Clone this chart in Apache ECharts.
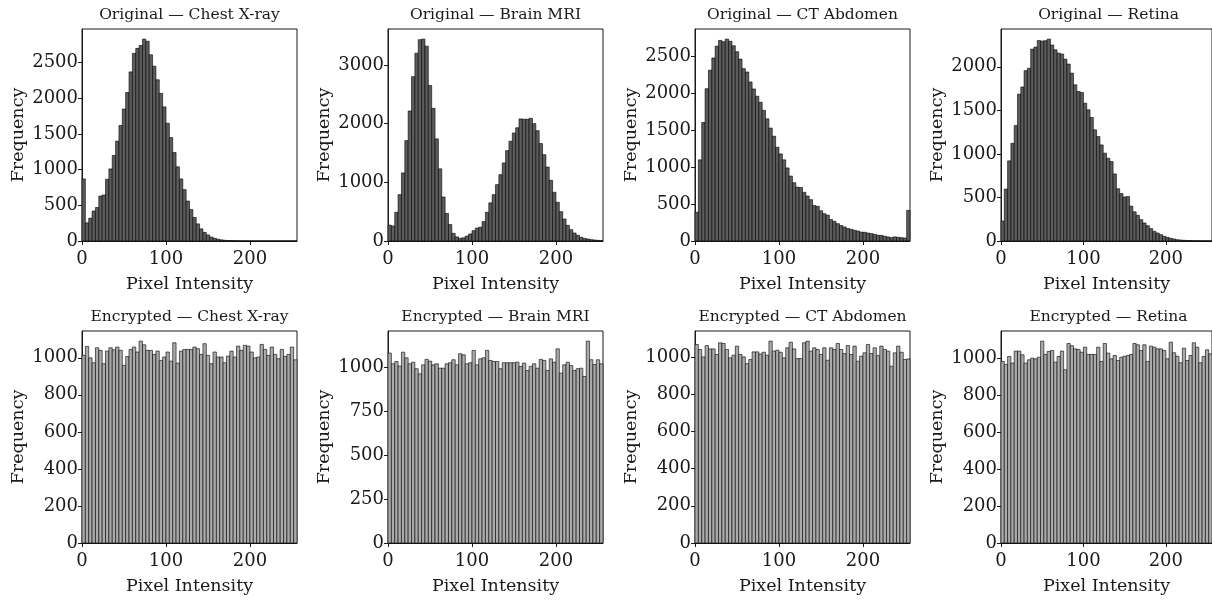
<!DOCTYPE html>
<html>
<head>
<meta charset="UTF-8">
<title>Pixel intensity histograms</title>
<script src="https://cdn.jsdelivr.net/npm/echarts@6/dist/echarts.min.js"></script>
<style>
  html, body { margin: 0; padding: 0; background: #fff; }
  #main { width: 1212px; height: 600px; }
</style>
</head>
<body>
<div id="main"></div>
<script>
// 64 bins of width 4 over 0..256
var binWidth = 4;

var titles = [
  'Original — Chest X-ray', 'Original — Brain MRI', 'Original — CT Abdomen', 'Original — Retina',
  'Encrypted — Chest X-ray', 'Encrypted — Brain MRI', 'Encrypted — CT Abdomen', 'Encrypted — Retina'
];

var origChest = [870, 255, 320, 420, 470, 630, 645, 865, 1010, 1200,
  1400, 1620, 1850, 2080, 2370, 2630, 2700, 2740, 2830, 2800,
  2610, 2450, 2260, 2070, 1880, 1650, 1450, 1240, 1040, 870,
  720, 560, 440, 330, 240, 170, 120, 85, 55, 38,
  25, 16, 10, 6, 4, 3, 2, 1, 1, 0,
  0, 0, 0, 0, 0, 0, 0, 0, 0, 0, 0, 0, 0, 0];
var origBrain = [270, 256, 490, 790, 1160, 1710, 2215, 2800, 3200, 3430,
  3440, 3320, 2650, 2260, 1740, 1230, 750, 470, 280, 130,
  70, 45, 55, 85, 120, 175, 220, 235, 330, 490,
  650, 790, 960, 1130, 1330, 1540, 1700, 1840, 1930, 2080,
  2075, 2075, 2090, 2000, 1880, 1660, 1470, 1260, 1035, 830,
  660, 500, 375, 267, 193, 136, 97, 63, 45, 34,
  23, 17, 11, 6];
var origCT = [390, 1100, 1606, 2064, 2315, 2480, 2640, 2718, 2700, 2736,
  2707, 2646, 2565, 2465, 2335, 2290, 2155, 2060, 1962, 1880,
  1770, 1655, 1530, 1420, 1270, 1180, 1100, 990, 880, 790,
  730, 725, 660, 610, 560, 480, 470, 410, 370, 350,
  290, 265, 235, 210, 190, 170, 158, 145, 135, 120,
  118, 108, 100, 90, 78, 76, 64, 55, 45, 56,
  50, 45, 40, 415];
var origRetina = [230, 596, 920, 1121, 1325, 1686, 1768, 1956, 1983, 2203,
  2226, 2301, 2295, 2300, 2318, 2250, 2195, 2157, 2146, 2088,
  2031, 1927, 1793, 1716, 1705, 1582, 1506, 1418, 1276, 1199,
  1103, 1008, 950, 912, 770, 600, 545, 505, 510, 400,
  335, 295, 245, 207, 176, 142, 111, 92, 73, 54,
  42, 31, 23, 15, 11, 8, 6, 4, 3, 2,
  2, 1, 1, 0];
var encChest = [1013, 1061, 1000, 973, 1054, 1040, 968, 1036, 1054, 1043,
  1058, 1040, 959, 1007, 1045, 1058, 1031, 1090, 1070, 1040,
  1040, 1018, 1036, 986, 1004, 1031, 982, 1081, 971, 1036,
  1045, 1045, 1045, 1058, 1049, 1018, 1076, 1013, 968, 1031,
  1004, 1004, 973, 1009, 1036, 1004, 1063, 1040, 1067, 1063,
  1031, 1000, 1004, 1072, 1045, 1013, 1058, 1018, 995, 1045,
  1007, 1018, 1058, 989];
var encBrain = [1080, 1019, 1032, 1006, 1085, 1053, 1019, 1028, 991, 962,
  1013, 1044, 1034, 1013, 1019, 994, 994, 1019, 1025, 1042,
  1013, 1076, 1070, 1019, 1025, 1095, 1013, 1047, 1053, 1095,
  1038, 1032, 1032, 991, 1025, 1025, 1025, 1025, 1028, 1004,
  1023, 981, 1004, 1019, 994, 1044, 1038, 981, 1047, 1028,
  1104, 966, 1013, 1028, 1009, 981, 991, 994, 947, 1148,
  1042, 1015, 1042, 1019];
var encCT = [1067, 1040, 1000, 1061, 1043, 1043, 1013, 1076, 1072, 1040,
  995, 1009, 1058, 1013, 1000, 964, 986, 1027, 1027, 1016,
  1025, 1009, 1085, 1031, 1036, 1025, 995, 1049, 1079, 1043,
  991, 991, 1076, 1085, 1031, 1049, 1040, 1013, 1049, 982,
  1049, 1040, 1072, 1040, 1018, 1061, 1013, 1058, 977, 1004,
  1022, 1067, 1018, 1049, 1007, 1058, 1040, 1031, 950, 1022,
  1058, 1025, 986, 989];
var encRetina = [982, 966, 1009, 973, 1038, 1038, 1018, 973, 991, 1000,
  996, 1005, 1092, 1020, 1036, 1041, 978, 1009, 1038, 937,
  1079, 1067, 1050, 1047, 1032, 1059, 1020, 1020, 1020, 1059,
  982, 1079, 1027, 996, 1014, 987, 1005, 1010, 1014, 1020,
  1079, 1072, 1041, 1072, 982, 1065, 1059, 1050, 1050, 1041,
  996, 1086, 1029, 1010, 975, 1054, 987, 1014, 1083, 1059,
  975, 1009, 1045, 1023];

var panels = [origChest, origBrain, origCT, origRetina, encChest, encBrain, encCT, encRetina];
var yStep = [500, 1000, 500, 500, 200, 250, 200, 200];
var xTicks = [0, 100, 200];

// layout (px)
var colLeft = [82, 388, 695, 1001];
var rowTop = [29, 331];
var titleTop = [7, 309];
var plotW = 215, plotH = 212;
var ink = '#1a1a1a';
var font = 'DejaVu Serif';
var fillOrig = '#5c5c5c', fillEnc = '#ababab';

var myChart = echarts.init(document.getElementById('main'));

var grids = [], xAxes = [], yAxes = [], series = [], titleList = [];

function plain(v) { return String(v); }

for (var i = 0; i < panels.length; i++) {
  var col = i % 4, row = Math.floor(i / 4);
  var vals = panels[i];
  var yMax = Math.max.apply(null, vals) * 1.05;
  var yTicks = [];
  for (var t = 0; t <= yMax; t += yStep[i]) yTicks.push(t);

  titleList.push({
    text: titles[i],
    left: colLeft[col] + plotW / 2,
    top: titleTop[row],
    textAlign: 'center',
    padding: 0,
    textStyle: { fontFamily: font, fontSize: 15.5, fontWeight: 'normal', color: ink }
  });

  grids.push({
    left: colLeft[col], top: rowTop[row], width: plotW, height: plotH,
    show: true, borderColor: ink, borderWidth: 1, containLabel: false
  });

  xAxes.push({
    gridIndex: i, type: 'value', min: 0, max: 256, interval: 100,
    axisLine: { show: true, lineStyle: { color: ink, width: 1 } },
    axisTick: { show: true, length: 4, lineStyle: { color: ink }, customValues: xTicks },
    axisLabel: { customValues: xTicks, formatter: plain, fontFamily: font, fontSize: 18, color: ink, margin: 9 },
    splitLine: { show: false },
    name: 'Pixel Intensity', nameLocation: 'middle', nameGap: 34,
    nameTextStyle: { fontFamily: font, fontSize: 17.5, color: ink }
  });

  yAxes.push({
    gridIndex: i, type: 'value', min: 0, max: yMax, interval: yStep[i],
    axisLine: { show: true, lineStyle: { color: ink, width: 1 } },
    axisTick: { show: true, length: 4, lineStyle: { color: ink }, customValues: yTicks },
    axisLabel: { customValues: yTicks, formatter: plain, fontFamily: font, fontSize: 18, color: ink, margin: 4 },
    splitLine: { show: false },
    name: 'Frequency', nameLocation: 'middle', nameGap: 55, nameRotate: 90,
    nameTextStyle: { fontFamily: font, fontSize: 17.5, color: ink }
  });

  var binData = vals.map(function (v, k) { return [k * binWidth, (k + 1) * binWidth, v]; });
  var fill = row === 0 ? fillOrig : fillEnc;

  series.push({
    type: 'custom',
    xAxisIndex: i, yAxisIndex: i,
    encode: { x: [0, 1], y: 2 },
    data: binData,
    itemStyle: { color: fill },
    renderItem: (function (c) {
      return function (params, api) {
        var p0 = api.coord([api.value(0), 0]);
        var p1 = api.coord([api.value(1), api.value(2)]);
        return {
          type: 'rect',
          shape: { x: p0[0], y: p1[1], width: p1[0] - p0[0], height: p0[1] - p1[1] },
          style: { fill: c, stroke: '#000', lineWidth: 0.6 }
        };
      };
    })(fill)
  });
}

var option = {
  backgroundColor: '#fff',
  animation: false,
  title: titleList,
  grid: grids,
  xAxis: xAxes,
  yAxis: yAxes,
  series: series
};
myChart.setOption(option);
</script>
</body>
</html>
